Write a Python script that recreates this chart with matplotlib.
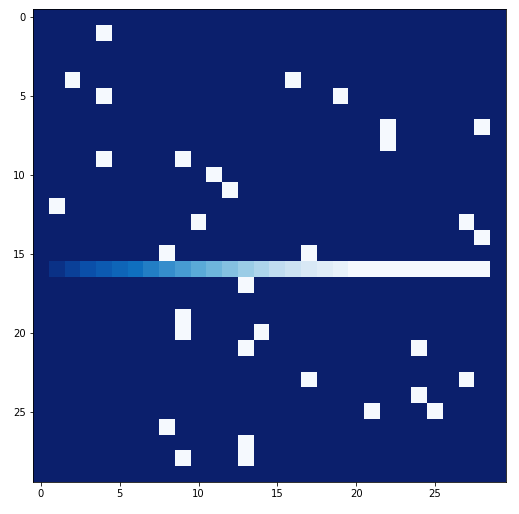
import numpy as np
from matplotlib import pyplot as plt
from matplotlib.colors import LinearSegmentedColormap

# grid size
n_rows = 30
n_cols = 30

# obstacle cells (row, col)
obstacle_rows = [1, 4, 4, 5, 5, 7, 7, 8, 9, 9, 10, 11, 12, 13, 13, 14, 15, 15,
                 17, 19, 20, 20, 21, 21, 23, 23, 24, 25, 25, 26, 27, 28, 28]
obstacle_cols = [4, 2, 16, 4, 19, 22, 28, 22, 4, 9, 11, 12, 1, 10, 27, 28, 8, 17,
                 13, 9, 9, 14, 13, 24, 17, 27, 24, 21, 25, 8, 13, 9, 13]

# values along row 16
path_row = 16
path_values = [0.0, 0.05, 0.1, 0.15, 0.2, 0.25, 0.3, 0.35, 0.4, 0.45,
               0.5, 0.55, 0.6, 0.65, 0.7, 0.75, 0.8, 0.85, 0.9, 0.95,
               1.0, 1.0, 1.0, 1.0, 1.0, 1.0, 1.0, 1.0, 1.0, 0.0]

grid = np.zeros((n_rows, n_cols))
grid[obstacle_rows, obstacle_cols] = 1.0
grid[path_row, :] = path_values

# navy -> blue -> white, close to a reversed "Blues"
cmap = LinearSegmentedColormap.from_list('navy_blues', [
    (0.0, '#0b1f6c'), (0.05, '#0a3388'), (0.15, '#0a50aa'), (0.3, '#1070c0'),
    (0.5, '#5aaad8'), (0.65, '#9acce6'), (0.75, '#c0dcf0'), (0.85, '#d8e8f5'),
    (0.95, '#e8f2fa'), (1.0, '#f5f9fe')])

fig = plt.figure(figsize=(519 / 72, 514 / 72), dpi=72)
ax = fig.add_axes([33 / 519, 1 - 483 / 514, 473 / 519, 474 / 514])
ax.imshow(grid, cmap=cmap, vmin=0, vmax=1, interpolation='nearest')

fig.savefig('out.png', dpi=72)
